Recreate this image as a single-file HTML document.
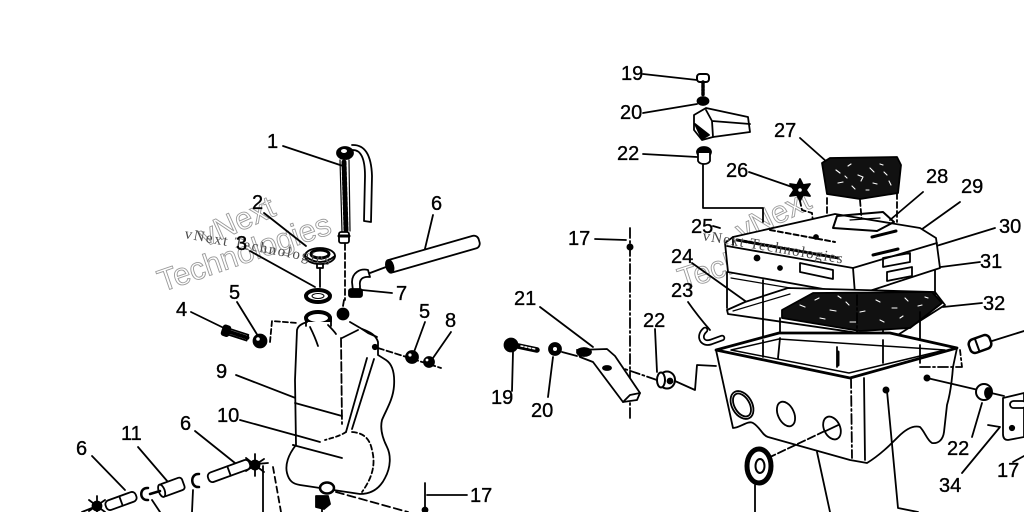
<!DOCTYPE html>
<html><head><meta charset="utf-8"><style>
html,body{margin:0;padding:0;background:#fff;}
svg{display:block}
.lb{font-family:"Liberation Sans",Arial,sans-serif;font-size:20px;fill:#000;stroke:#000;stroke-width:0.35}
.wm{font-family:"Liberation Sans",sans-serif;font-size:31px;fill:none;stroke:#9a9a9a;stroke-width:0.9}
.ws{font-family:"Liberation Serif",serif;font-size:15px;fill:#4a4a4a;stroke:none}
</style></head><body>
<svg width="1024" height="512" viewBox="0 0 1024 512" xmlns="http://www.w3.org/2000/svg">
<rect width="1024" height="512" fill="#fff"/>

<text class="wm" x="205" y="247" transform="rotate(-24 205 247)">vNext</text>
<text class="wm" x="162" y="292" transform="rotate(-19 162 292)">Technologies</text>
<text class="wm" x="742" y="242" transform="rotate(-26 742 242)">vNext</text>
<text class="wm" x="682" y="290" transform="rotate(-18 682 290)">Technologies</text>

<g fill="none" stroke="#000" stroke-width="1.8" stroke-linecap="round" stroke-linejoin="round">

<path d="M283,146 L343,166"/>
<path d="M264,213 L306,246"/>
<path d="M250,251 L315,287"/>
<path d="M191,312 L228,330"/>
<path d="M237,302 L258,336"/>
<path d="M433,215 L423,257"/>
<path d="M392,293 L362,290"/>
<path d="M425,322 L414,352"/>
<path d="M451,332 L433,358"/>
<path d="M236,375 L342,416"/>
<path d="M240,420 L320,442"/>
<path d="M293,445 L342,458"/>
<path d="M138,447 L168,482"/>
<path d="M195,431 L235,463"/>
<path d="M92,456 L125,490"/>
<path d="M425,483 L425,512 M427,495 L467,495"/>

<path d="M352,150 Q365,149 365,176 L364,221 L371,222 L372,176 Q371,144 352,145"/>
<path d="M344,162 L346,230" stroke-width="5" stroke-dasharray="3,2"/>
<path d="M340,160 L342,232 M349,160 L350,231" stroke-width="1.2"/>
<ellipse cx="345" cy="153" rx="8" ry="6" fill="#000"/>
<ellipse cx="344" cy="151" rx="3" ry="2" fill="#fff" stroke="none"/>
<rect x="339" y="232" width="10" height="11" rx="2" fill="#fff"/>
<path d="M339,236 L349,236" stroke-width="3"/>
<path d="M345,244 L345,300 M344,300 L343,306" stroke-dasharray="6,3"/>

<ellipse cx="320" cy="256" rx="15" ry="8" fill="#fff"/>
<ellipse cx="320" cy="254" rx="9" ry="4" stroke-width="3"/>
<path d="M305,256 Q320,268 335,256"/>
<path d="M317,264 L317,268 L323,268 L323,264"/>
<path d="M320,268 L320,287"/>
<ellipse cx="318" cy="296" rx="12" ry="6" stroke-width="4" fill="#fff"/>
<ellipse cx="318" cy="296" rx="6" ry="2.5" fill="#fff" stroke-width="1"/>
<path d="M306,318 L306,326 M331,318 L331,326"/>
<ellipse cx="318" cy="318" rx="12" ry="6" stroke-width="4" fill="#fff"/>
<circle cx="343" cy="314" r="5.5" fill="#000"/>

<path d="M353,291 L352,282 C352,273 360,268 368,270 L370,277 C362,276 359,280 360,286 L360,291 Z" fill="#fff"/>
<rect x="349" y="289" width="13" height="8" rx="2" fill="#000"/>
<path d="M370,273 L386,267"/>

<g transform="translate(433,254) rotate(-16)">
<rect x="-48" y="-6.5" width="96" height="13" rx="5" fill="#fff"/>
<ellipse cx="-45" cy="0" rx="3.5" ry="6.5" fill="#000"/>
</g>

<g transform="translate(236,334) rotate(18)">
<rect x="-8" y="-3" width="20" height="6" fill="#fff"/>
<path d="M-6,0 L12,0" stroke-width="4" stroke-dasharray="2,1.5"/>
<rect x="-14" y="-5" width="7" height="10" rx="2" fill="#000"/>
</g>
<circle cx="260" cy="341" r="6.5" fill="#000"/>
<circle cx="258" cy="339" r="1.8" fill="#fff" stroke="none"/>
<path d="M270,342 L272,321 L297,323" stroke-dasharray="5,3"/>

<path d="M307,322 C301,324 298,326 297,330 L295,380 L296,445 C288,455 285,465 287,473 C289,481 293,484 300,485 L360,494 C372,494 380,488 385,478 C391,467 391,455 387,447 C382,437 380,428 382,420 C386,410 393,400 394,386 C395,372 392,364 386,360 L378,355 L378,342 C376,335 370,332 362,329 L350,322" fill="#fff"/>
<path d="M306,318 L306,326 M331,318 L331,326" />
<path d="M310,327 C313,333 316,340 318,346"/>
<path d="M328,325 C331,328 334,331 336,334"/>
<path d="M342,338 L358,330"/>
<path d="M341,338 L342,424" stroke-dasharray="9,3"/>
<path d="M367,358 L346,432 M374,359 L352,429"/>
<path d="M362,329 L368,333 L377,337"/>
<path d="M352,432 C365,433 370,440 372,450 C376,465 372,478 362,492" stroke-dasharray="5,3"/>
<path d="M346,432 C340,436 332,438 325,440" stroke-dasharray="4,3"/>
<circle cx="375" cy="347" r="2.2" fill="#000"/>
<path d="M378,348 L441,368" stroke-dasharray="6,3"/>
<circle cx="412" cy="357" r="6" fill="#000"/>
<circle cx="429" cy="362" r="5" fill="#000"/>
<circle cx="410" cy="355" r="1.6" fill="#fff" stroke="none"/>
<circle cx="427" cy="360" r="1.4" fill="#fff" stroke="none"/>
<path d="M295,403 L342,416"/>
<path d="M295,435 L320,442"/>
<path d="M293,445 L342,458"/>

<ellipse cx="327" cy="488" rx="7" ry="5.5" fill="#fff" stroke-width="2.5"/>
<path d="M316,496 L328,496 L330,504 L324,509 L316,507 Z" fill="#000"/>
<path d="M322,509 L322,512"/>
<path d="M336,492 L408,512" stroke-dasharray="8,4"/>
<circle cx="425" cy="510" r="2.5" fill="#000"/>

<path d="M263,466 L263,512"/>
<path d="M273,467 L281,512" stroke-dasharray="6,4"/>
<circle cx="255" cy="465" r="4.5" fill="#000"/>
<path d="M246,458 L264,472 M246,471 L264,459 M255,454 L255,476 M244,465 L268,463"/>
<g transform="translate(229,471) rotate(-20)">
<rect x="-22" y="-5" width="44" height="10" rx="4" fill="#fff"/>
<path d="M0,-5 L0,5"/>
</g>
<path d="M199,474 C190,473 190,488 199,487" stroke-width="2.5"/>
<g transform="translate(172,487) rotate(-20)">
<rect x="-12" y="-6.5" width="24" height="13" rx="3" fill="#fff"/>
<ellipse cx="-11" cy="0" rx="3" ry="6.5" fill="#fff"/>
</g>
<path d="M150,494 L160,491" stroke-width="2.5"/>
<path d="M148,488 C139,487 139,501 148,500" stroke-width="2.5"/>
<g transform="translate(121,501) rotate(-20)">
<rect x="-16" y="-5" width="32" height="10" rx="4" fill="#fff"/>
<path d="M0,-5 L0,5"/>
</g>
<circle cx="97" cy="506" r="4.5" fill="#000"/>
<path d="M89,500 L105,512 M89,511 L105,500 M97,496 L97,512"/>
<path d="M92,508 L82,512"/>
<path d="M193,490 L192,512"/>
<path d="M152,500 L160,512"/>

<path d="M643,74 L697,80"/>
<path d="M643,113 L697,104"/>
<path d="M643,154 L697,157"/>
<path d="M800,138 L827,162"/>
<path d="M749,172 L795,188"/>
<path d="M923,192 L890,220"/>
<path d="M960,202 L918,232"/>
<path d="M995,228 L933,247"/>
<path d="M980,262 L933,268"/>
<path d="M982,303 L943,307"/>
<path d="M595,239 L626,240"/>
<path d="M630,228 L630,420" stroke-dasharray="10,3,2,3"/>
<circle cx="630" cy="247" r="2.6" fill="#000"/>
<path d="M713,226 L720,228"/>
<path d="M692,263 L748,303"/>
<path d="M688,302 C695,312 703,322 710,330"/>
<path d="M540,307 L593,347"/>
<path d="M655,329 L657,372"/>
<path d="M512,391 L513,352"/>
<path d="M548,397 L553,357"/>
<path d="M972,437 L982,403"/>
<path d="M962,473 L1000,427 M988,425 L1000,427"/>
<path d="M1013,462 L1024,456"/>

<rect x="697" y="74" width="12" height="8" rx="3" fill="#fff" stroke-width="2"/>
<path d="M703,82 L703,95" stroke-width="3.5" stroke-dasharray="2,1.5"/>
<ellipse cx="703" cy="101" rx="5.5" ry="4" fill="#000"/>
<path d="M694,115 L706,108 L748,117 L750,132 L713,137 L702,140 L694,130 Z" fill="#fff"/>
<path d="M706,110 L712,121 L750,124 M712,121 L713,137"/>
<path d="M695,124 L702,139 L709,135 Z" fill="#000"/>
<ellipse cx="704" cy="152" rx="7" ry="5" fill="#000"/>
<path d="M698,153 L698,161 C700,165 708,165 710,161 L710,153" fill="#fff"/>
<path d="M703,165 L703,208 L763,208 L763,222"/>

<path d="M800,179 L803,185 L810,184 L806,190 L810,196 L803,195 L800,201 L797,195 L790,196 L794,190 L790,184 L797,185 Z" fill="#000"/>
<circle cx="800" cy="190" r="1.8" fill="#fff" stroke="none"/>
<path d="M800,201 L802,210 L812,213 L813,222" stroke-dasharray="5,3"/>

<path d="M822,163 L830,158 L897,157 L901,165 L898,193 L860,199 L827,194 Z" fill="#111"/>
<g stroke="#fff" stroke-width="1.1">
<path d="M836,170 l4,3 M848,166 l3,-2 M858,175 l5,2 l-2,4 M870,168 l4,4 M884,172 l3,3 M838,183 l5,-1 M852,186 l3,3 M873,183 l4,1 M889,181 l2,4 M845,176 l2,2 M866,190 l3,0 M880,164 l3,1"/>
</g>
<path d="M827,198 L827,215 M860,200 L862,224 M897,193 L897,222" stroke-dasharray="6,3"/>

<path d="M725,243 L733,237 L835,214 L920,228 L936,238 L940,268 L857,295 L728,272 Z" fill="#fff"/>
<path d="M727,246 L853,268 L937,243"/>
<path d="M853,268 L855,294"/>
<path d="M733,237 L733,245" />
<path d="M837,216 L883,212 L894,222 L877,231 L833,228 Z" stroke-width="2"/>
<path d="M850,220 L880,218" stroke-width="1.2"/>
<path d="M872,237 L896,231" stroke-width="3"/>
<path d="M873,255 L898,249" stroke-width="3"/>
<path d="M883,258 L910,253 L910,262 L883,267 Z"/>
<path d="M887,272 L912,267 L912,276 L887,281 Z"/>
<path d="M800,263 L833,270 L833,279 L800,272 Z"/>
<circle cx="757" cy="258" r="2.5" fill="#000"/>
<circle cx="780" cy="268" r="2" fill="#000"/>
<circle cx="816" cy="237" r="2" fill="#000"/>
<path d="M737,240 L838,258" stroke-width="3" stroke-dasharray="4,2"/>
<path d="M770,230 L835,242" stroke-width="2" stroke-dasharray="5,3"/>
<path d="M731,278 L850,298" stroke-width="1.2"/>

<path d="M727,310 L745,302 L788,288 L935,292 L945,305 L893,338 L728,314 Z" fill="#fff"/>
<path d="M733,311 L790,294" stroke-width="1.2"/>
<path d="M782,310 L813,293 L932,292 L942,303 L910,328 L860,331 L782,318 Z" fill="#111"/>
<g stroke="#fff" stroke-width="1.1">
<path d="M800,305 l5,2 M815,300 l4,-2 M830,310 l6,1 M846,302 l3,3 M860,312 l5,-1 M876,300 l4,2 M892,308 l5,0 M905,298 l3,3 M918,306 l4,-1 M820,318 l5,1 M850,322 l6,0 M880,320 l4,2 M900,318 l3,-2 M838,296 l3,2 M925,297 l3,1"/>
</g>

<path d="M763,280 L763,357"/>
<path d="M780,318 L780,340"/>
<path d="M727,272 L727,308"/>
<path d="M857,295 L857,345" stroke-dasharray="10,3,2,3"/>
<path d="M883,330 L883,363"/>
<path d="M920,312 L920,363"/>
<path d="M935,270 L935,295"/>

<path d="M705,330 C698,336 702,345 711,342 L722,338" stroke-width="6.5"/>
<path d="M705,330 C698,336 702,345 711,342 L722,338" stroke="#fff" stroke-width="3"/>

<path d="M716,350 L733,428 C740,428 748,420 753,423 C760,427 762,435 768,437 L850,460 L867,463 C880,455 890,445 898,437 C905,430 913,425 920,427 C925,432 927,440 932,443 C938,444 943,440 944,432 L947,405 C950,395 952,380 953,367 L957,348 Z" fill="#fff"/>
<path d="M716,350 L779,333 L890,333 L957,348 L850,378 Z" stroke-width="2.8" fill="#fff"/>
<path d="M731,350 L779,339 L945,350 L849,373 Z" stroke-width="1.5"/>
<path d="M780,338 L778,358 M837,347 L837,367"/>
<path d="M838,352 L838,365" stroke-width="3"/>
<path d="M763,340 L763,357 M883,340 L883,363 M920,345 L920,363"/>
<path d="M851,378 L852,458" stroke-dasharray="10,3,2,3"/>
<path d="M864,378 L865,460"/>
<g transform="translate(742,405) rotate(-30)">
<ellipse rx="10" ry="15" fill="#fff"/>
<ellipse rx="7.5" ry="12.5"/>
</g>
<g transform="translate(786,414) rotate(-25)"><ellipse rx="8" ry="13" fill="#fff"/></g>
<g transform="translate(832,428) rotate(-25)"><ellipse rx="8" ry="12" fill="#fff"/><path d="M-8,0 L8,0"/></g>
<path d="M768,458 L827,430" stroke-dasharray="8,3"/>
<ellipse cx="759" cy="466" rx="12" ry="17" stroke-width="5" fill="#fff"/>
<ellipse cx="760" cy="466" rx="4.5" ry="7" stroke-width="2"/>
<path d="M755,485 L755,512"/>
<path d="M817,452 L830,512"/>
<circle cx="886" cy="390" r="2.6" fill="#000"/>
<path d="M887,391 L898,508 L918,512"/>

<path d="M675,381 L695,390 L697,365 L716,366"/>
<path d="M613,365 L657,380" stroke-dasharray="10,3,2,3"/>
<ellipse cx="667" cy="380" rx="8" ry="8.5" fill="#fff" stroke-width="2"/>
<ellipse cx="661" cy="380" rx="4" ry="7.5" fill="#fff" stroke-width="2"/>
<circle cx="670" cy="381" r="2.5" fill="#000"/>
<path d="M577,350 L607,349 L615,356 L640,393 L637,400 L623,402 L593,362 L580,357 Z" fill="#fff"/>
<path d="M623,402 L630,395 L640,393"/>
<ellipse cx="607" cy="368" rx="4" ry="2" fill="#000"/>
<ellipse cx="584" cy="352" rx="7" ry="4" fill="#000"/>
<circle cx="511" cy="345" r="6.5" fill="#000"/>
<path d="M518,346 L537,350" stroke-width="5.5"/>
<path d="M521,346 L535,349" stroke="#fff" stroke-width="1.5" stroke-dasharray="2,2"/>
<circle cx="555" cy="349" r="6" fill="#000"/>
<circle cx="555" cy="349" r="2" fill="#fff" stroke="none"/>
<path d="M562,352 L577,356"/>

<g transform="translate(980,344) rotate(-20)">
<rect x="-11" y="-7" width="22" height="14" rx="5" fill="#fff" stroke-width="2.5"/>
<path d="M-3,-7 L-3,7" stroke-width="2"/>
</g>
<path d="M992,341 L1024,331"/>
<path d="M920,367 L962,367 L960,350" stroke-dasharray="10,3,2,3"/>
<circle cx="927" cy="378" r="2.6" fill="#000"/>
<path d="M927,378 L1004,396"/>
<ellipse cx="984" cy="392" rx="8" ry="8" fill="#fff" stroke-width="2"/>
<ellipse cx="988" cy="393" rx="3" ry="5" fill="#000"/>
<path d="M1003,398 L1024,393 L1024,437 L1008,440 C1004,440 1003,437 1003,434 Z" fill="#fff"/>
<rect x="1010" y="401" width="16" height="7" rx="3.5" fill="#fff"/>
<circle cx="1012" cy="428" r="2.2" fill="#000"/>
</g>

<text class="ws" x="184" y="238" transform="rotate(10.5 184 238)" textLength="148">vNext Technologies</text>
<text class="ws" x="702" y="240" transform="rotate(9.5 702 240)" textLength="142">vNext Technologies</text>

<g class="lb">
<text x="267" y="148">1</text>
<text x="252" y="209">2</text>
<text x="236" y="250">3</text>
<text x="431" y="210">6</text>
<text x="229" y="299">5</text>
<text x="176" y="316">4</text>
<text x="396" y="300">7</text>
<text x="419" y="318">5</text>
<text x="445" y="327">8</text>
<text x="216" y="378">9</text>
<text x="217" y="422">10</text>
<text x="180" y="430">6</text>
<text x="121" y="440">11</text>
<text x="76" y="455">6</text>
<text x="470" y="502">17</text>
<text x="621" y="80">19</text>
<text x="620" y="119">20</text>
<text x="617" y="160">22</text>
<text x="774" y="137">27</text>
<text x="726" y="177">26</text>
<text x="926" y="183">28</text>
<text x="961" y="193">29</text>
<text x="999" y="233">30</text>
<text x="980" y="268">31</text>
<text x="983" y="310">32</text>
<text x="568" y="245">17</text>
<text x="691" y="233">25</text>
<text x="671" y="263">24</text>
<text x="671" y="297">23</text>
<text x="514" y="305">21</text>
<text x="643" y="327">22</text>
<text x="491" y="404">19</text>
<text x="531" y="417">20</text>
<text x="947" y="455">22</text>
<text x="939" y="492">34</text>
<text x="997" y="477">17</text>
</g>
</svg>
</body></html>
